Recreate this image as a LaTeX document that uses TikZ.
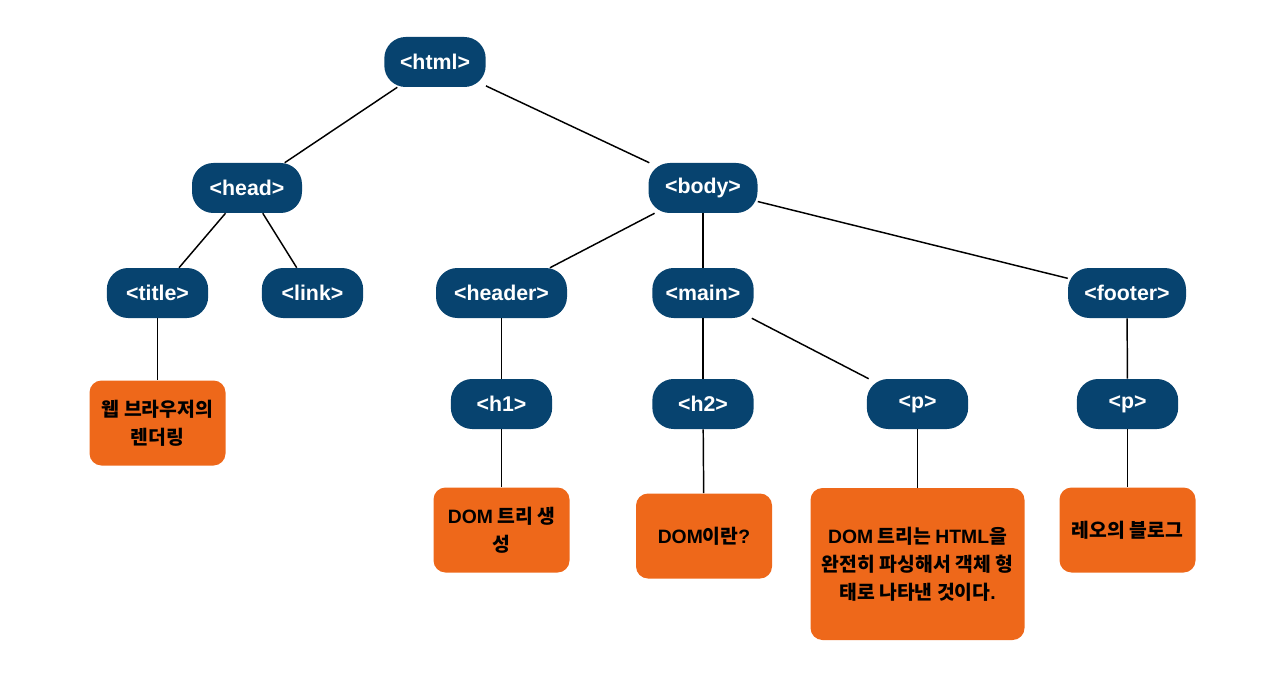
\documentclass[tikz,border=0pt]{standalone}
\usepackage{fontspec}
\setmainfont{Liberation Sans}
\newfontfamily\krfont{Noto Sans CJK KR}
\newcommand\lat[1]{{\rmfamily\bfseries #1}}
\usetikzlibrary{shapes}
\usetikzlibrary{positioning}
\definecolor{tagblue}{HTML}{07436F}
\definecolor{leaforange}{HTML}{EE681A}

\begin{document}
\begin{tikzpicture}[x=0.75pt,y=-0.75pt]
    \def\leafdist{126}
    \tikzstyle{tag}=[rectangle, rounded corners=16pt, fill=tagblue, text=white, font=\bfseries\fontsize{16}{19}\selectfont, minimum height=37.5pt, minimum width=76pt, inner xsep=6pt]
    \tikzstyle{leaf}=[rectangle, rounded corners=9pt, fill=leaforange, text=black, font=\krfont\bfseries\fontsize{14.5}{21}\selectfont, align=center, minimum width=102pt, minimum height=63.75pt]
    \tikzstyle{line}=[line width=1.1pt, black]

    \useasboundingbox (0,0) rectangle (1280,684);

    % nodes
    \node (html) [tag] at (435,62) {<html>};
    \node (head) [tag, minimum width=82.5pt] at (247,188) {<head>};
    \node (body) [tag, minimum width=81.75pt] at (703,188) {<body>};

    \node (title) [tag] at (157.5,293) {<title>};
    \node (link) [tag] at (312.5,293) {<link>};
    \node (header) [tag, minimum width=98.25pt] at (501.5,293) {<header>};
    \node (main) [tag] at (703,293) {<main>};
    \node (footer) [tag, minimum width=88.5pt] at (1127,293) {<footer>};

    \node (h1) [tag] at (501.5,404) {<h1>};
    \node (h2) [tag] at (703,404) {<h2>};
    \node (p1) [tag] at (917.5,404) {<p>};
    \node (p2) [tag] at (1127.5,404) {<p>};

    % leaves
    \path (title)+(0,130) node (render) [leaf] {웹 브라우저의\\렌더링};
    \path (h1)+(0,\leafdist) node (create) [leaf] {\lat{DOM} 트리 생\\성};
    \path (h2)+(1,132) node (what) [leaf] {\lat{DOM}이란\lat{?}};
    \path (p1)+(0,160) node (desc) [leaf, minimum width=160.5pt, minimum height=114pt] {\lat{DOM} 트리는 \lat{HTML}을\\완전히 파싱해서 객체 형\\태로 나타낸 것이다\lat{.}};
    \path (p2)+(0,\leafdist) node (blog) [leaf] {레오의 블로그};

    % edges
    \path[line] (html) edge (head);
    \path[line] (html) edge (body);
    \path[line] (head) edge (title);
    \path[line] (head) edge (link);
    \path[line] (body) edge (header);
    \path[line] (body) edge (main);
    \path[line] (body) edge (footer);
    \path[line] (header) edge (h1);
    \path[line] (main) edge (h2);
    \path[line] (main) edge (p1);
    \path[line] (footer) edge (p2);

    \path[line] (title) edge (render);
    \path[line] (h1) edge (create);
    \path[line] (h2) edge (what);
    \path[line] (p1) edge (desc);
    \path[line] (p2) edge (blog);
\end{tikzpicture}
\end{document}
